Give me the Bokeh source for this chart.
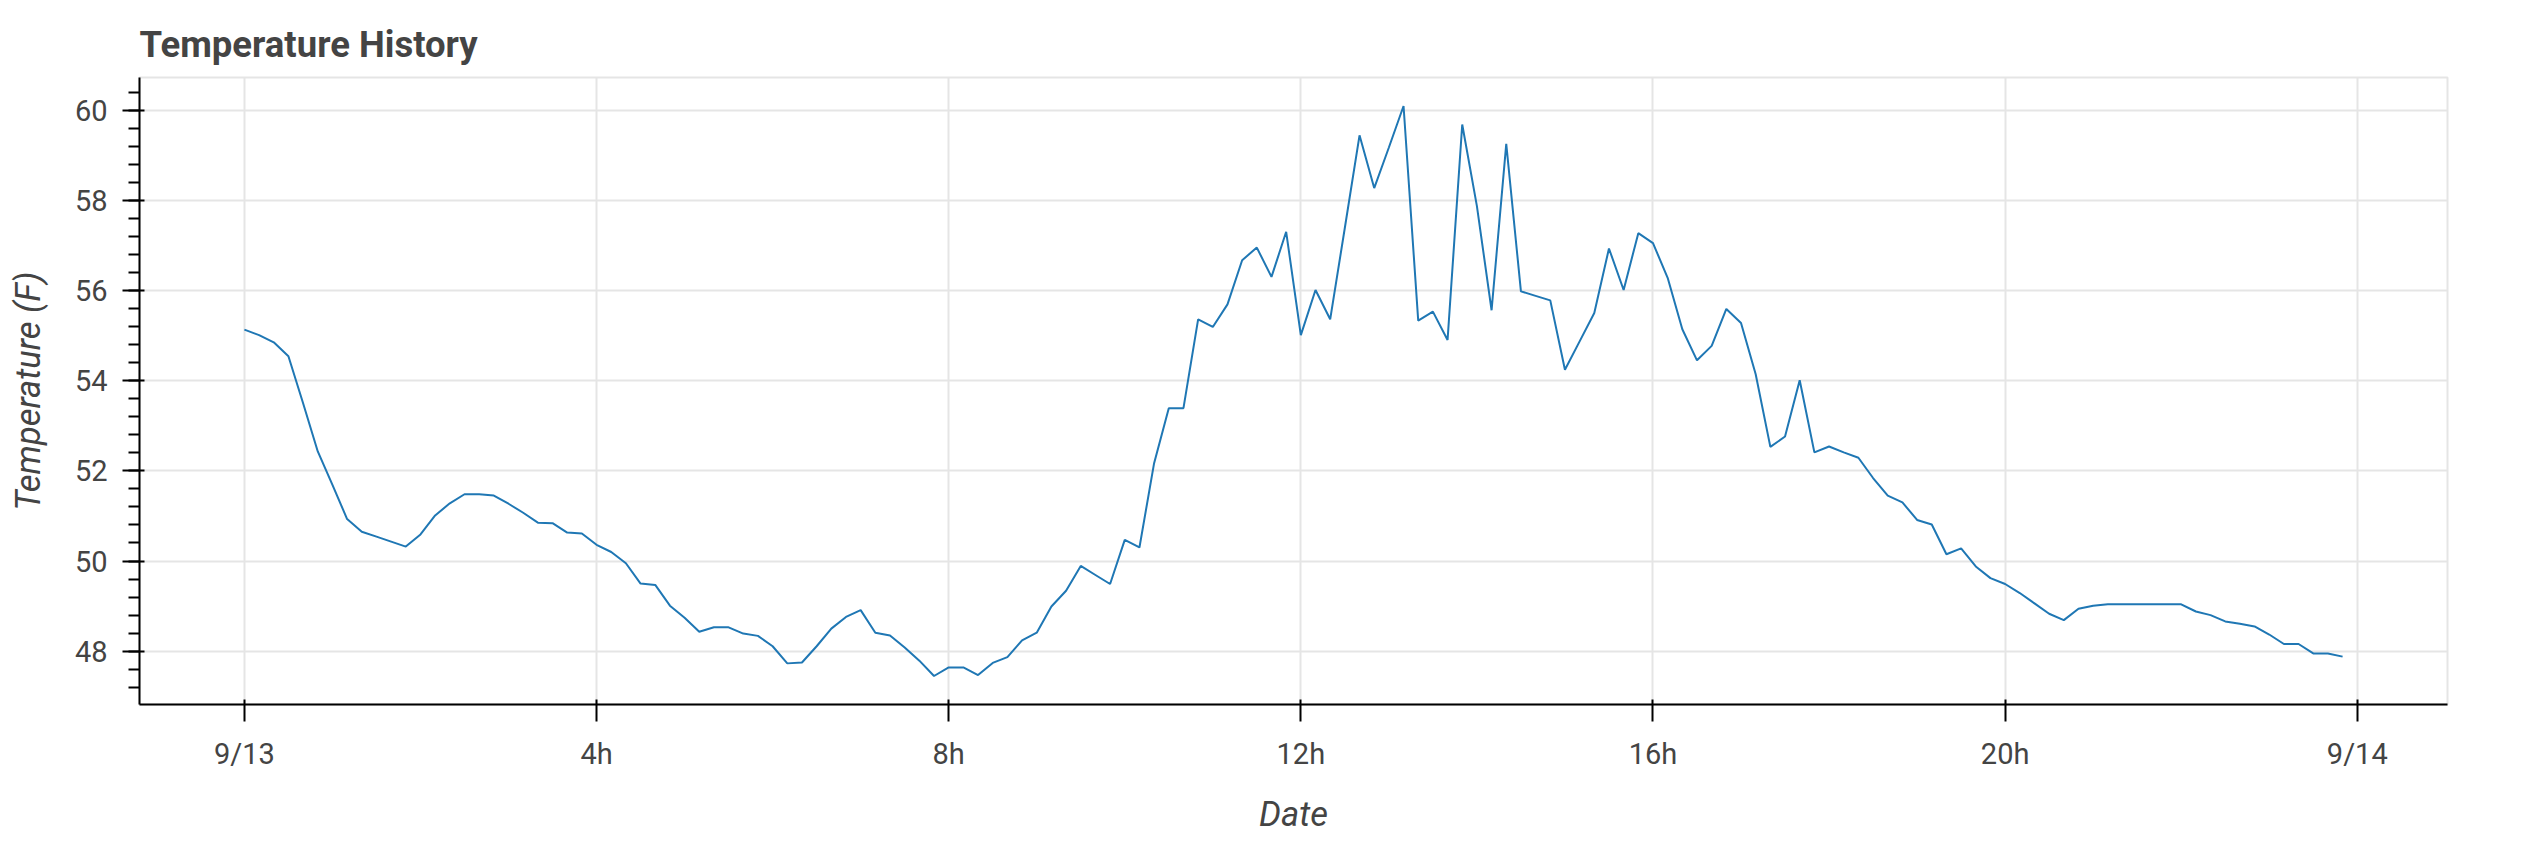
import pandas as pd
from bokeh.plotting import figure
from bokeh.models import ColumnDataSource, FixedTicker
from bokeh.embed import file_html
from bokeh.resources import INLINE

# Temperature readings every 10 minutes, 9/13 00:00 -> 23:50 (deg F)
temps = [
    55.13, 55.01, 54.85, 54.54, 53.50, 52.43,   # 0h
    51.69, 50.93, 50.65, 50.54, 50.43, 50.32,   # 1h
    50.59, 51.01, 51.28, 51.48, 51.48, 51.45,   # 2h
    51.27, 51.07, 50.85, 50.84, 50.63, 50.61,   # 3h
    50.36, 50.20, 49.95, 49.50, 49.47, 49.01,   # 4h
    48.74, 48.43, 48.53, 48.53, 48.39, 48.34,   # 5h
    48.11, 47.73, 47.75, 48.11, 48.50, 48.76,   # 6h
    48.91, 48.41, 48.35, 48.08, 47.79, 47.45,   # 7h
    47.64, 47.64, 47.47, 47.74, 47.87, 48.24,   # 8h
    48.41, 48.99, 49.34, 49.89, 49.69, 49.49,   # 9h
    50.47, 50.30, 52.17, 53.39, 53.39, 55.36,   # 10h
    55.19, 55.69, 56.67, 56.95, 56.30, 57.30,   # 11h
    55.01, 56.01, 55.36, 57.39, 59.44, 58.27,   # 12h
    59.17, 60.09, 55.33, 55.53, 54.90, 59.68,   # 13h
    57.87, 55.56, 59.25, 55.98, 55.88, 55.78,   # 14h
    54.24, 54.87, 55.50, 56.93, 56.01, 57.27,   # 15h
    57.05, 56.28, 55.14, 54.45, 54.77, 55.59,   # 16h
    55.28, 54.14, 52.53, 52.76, 54.01, 52.41,   # 17h
    52.54, 52.41, 52.29, 51.84, 51.45, 51.30,   # 18h
    50.91, 50.81, 50.15, 50.28, 49.88, 49.62,   # 19h
    49.49, 49.29, 49.06, 48.83, 48.69, 48.94,   # 20h
    49.01, 49.04, 49.04, 49.04, 49.04, 49.04,   # 21h
    49.04, 48.88, 48.80, 48.66, 48.61, 48.55,   # 22h
    48.37, 48.16, 48.16, 47.95, 47.95, 47.88,   # 23h
]
start_time = "2023-09-13 00:00"
step = "10min"

tick_times = ["2023-09-13 00:00", "2023-09-13 04:00", "2023-09-13 08:00",
              "2023-09-13 12:00", "2023-09-13 16:00", "2023-09-13 20:00",
              "2023-09-14 00:00"]
tick_labels = ["9/13", "4h", "8h", "12h", "16h", "20h", "9/14"]

times = pd.date_range(start_time, periods=len(temps), freq=step)
source = ColumnDataSource(data=dict(time=times, temp=temps))

tick_ms = [int(pd.Timestamp(t).value // 10**6) for t in tick_times]

p = figure(frame_width=2308, frame_height=627, x_axis_type="datetime",
           output_backend="svg", toolbar_location=None,
           title="Temperature History",
           min_border_left=139, min_border_right=70,
           min_border_top=77, min_border_bottom=131)

p.line(x="time", y="temp", source=source, line_color="#1f77b4", line_width=2)

ticker = FixedTicker(ticks=tick_ms)
p.xaxis.ticker = ticker
p.xgrid.ticker = ticker
p.xaxis.major_label_overrides = dict(zip(tick_ms, tick_labels))

p.xaxis.axis_label = "Date"
p.yaxis.axis_label = "Temperature (F)"

GRAY = "#444444"
for ax in (p.xaxis[0], p.yaxis[0]):
    ax.axis_line_width = 2
    ax.axis_line_color = "black"
    ax.major_tick_line_width = 2
    ax.minor_tick_line_width = 2
    ax.major_tick_out = 17
    ax.major_tick_in = 5
    ax.minor_tick_out = 11
    ax.minor_tick_in = 0
    ax.major_label_standoff = 15
    ax.major_label_text_font = "Roboto"
    ax.major_label_text_font_size = "29px"
    ax.major_label_text_color = GRAY
    ax.axis_label_text_font = "Roboto"
    ax.axis_label_text_font_size = "34.5px"
    ax.axis_label_text_font_style = "italic"
    ax.axis_label_text_color = GRAY

p.xaxis.axis_label_standoff = 20
p.yaxis.axis_label_standoff = 24

p.grid.grid_line_color = "#e5e5e5"
p.grid.grid_line_width = 2
p.outline_line_color = "#e5e5e5"
p.outline_line_width = 2

p.title.text_font = "Roboto"
p.title.text_font_size = "36.5px"
p.title.text_font_style = "bold"
p.title.text_color = GRAY
p.title.standoff = 23

open("out.html", "w").write(file_html(p, INLINE))
